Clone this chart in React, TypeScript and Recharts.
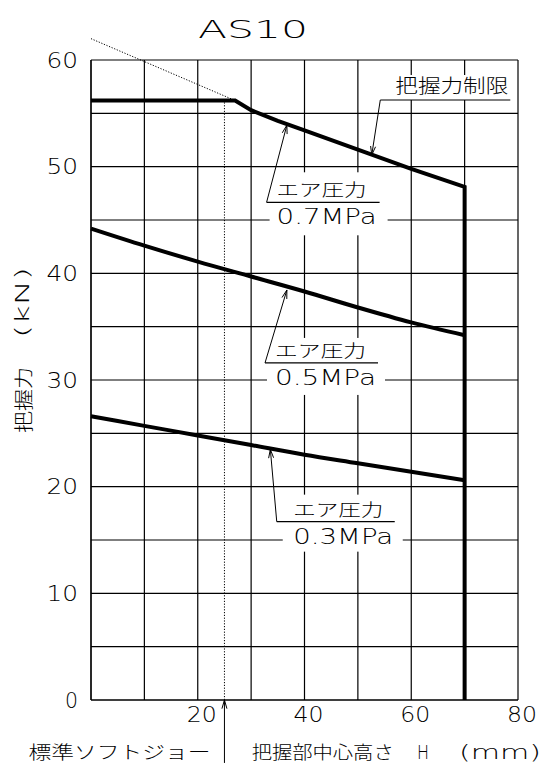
import React from 'react';
import { LineChart, Line, XAxis, YAxis, CartesianGrid, ReferenceLine } from 'recharts';

// ---- data ----
const xTicks = [0, 10, 20, 30, 40, 50, 60, 70, 80];
const xLabelTicks = [20, 40, 60, 80];
const yTicks = [0, 5, 10, 15, 20, 25, 30, 35, 40, 45, 50, 55, 60];
const yLabelTicks = [0, 10, 20, 30, 40, 50, 60];

// grip force limit (把握力制限) incl. 0.7MPa curve and stroke-end vertical at H=70
const limitX = [0, 27, 30, 35, 40, 50, 60, 70, 70];
const limitY = [56.2, 56.2, 55.3, 54.3, 53.4, 51.6, 49.8, 48.1, 0];

const p05X = [0, 10, 20, 30, 40, 50, 60, 70];
const p05Y = [44.2, 42.6, 41.1, 39.7, 38.3, 36.8, 35.4, 34.2];

const p03X = [0, 10, 20, 30, 40, 50, 60, 70];
const p03Y = [26.6, 25.7, 24.8, 23.9, 23.0, 22.2, 21.4, 20.6];

// dotted extension of the limit curve
const extX = [0, 27];
const extY = [62.0, 56.2];

// standard soft jaw position
const softJawX = 25;
const softJawTop = 56.2;
const softJawArrowBottom = -5.9;

const titleText = 'AS10';
const yTitleA = '把握力';
const yTitleB = '(kN)';
const xTitleA = '把握部中心高さ';
const xTitleB = 'H';
const xTitleC = '(mm)';
const softJawText = '標準ソフトジョー';

const calloutNames = ['limit', 'p07', 'p05', 'p03'];
const calloutText1 = ['把握力制限', 'エア圧力', 'エア圧力', 'エア圧力'];
const calloutText2 = ['', '0.7MPa', '0.5MPa', '0.3MPa'];
const calloutFootX = [54.2, 32.9, 32.6, 34.8];
const calloutFootY = [56.25, 46.66, 31.6, 16.72];
const calloutTipX = [52.6, 36.7, 36.7, 33.6];
const calloutTipY = [51.1, 53.9, 38.44, 23.5];

const toPts = (xs: number[], ys: number[]) => xs.map((x, i) => ({ x, y: ys[i] }));
const limitData = toPts(limitX, limitY);
const p05Data = toPts(p05X, p05Y);
const p03Data = toPts(p03X, p03Y);

const LATIN = '"DejaVu Sans", sans-serif';
const CJK = '"Noto Sans CJK JP", "DejaVu Sans", sans-serif';
const LW = 200; // latin weight
const CW = 300; // cjk weight

// ---- layout styles for callouts (pixel offsets relative to leader foot) ----
const calloutStyle: Record<string, any> = {
  limit: { ul: 130, t1dx: 15, t1len: 113, t1size: 19, t1dy: -7, box: [8, -25, 124, 25] },
  p07: { ul: 113, t1dx: 10, t1len: 90, t1size: 17, t1dy: -6, t2dx: 10, t2len: 100, box: [3, -30, 118, 63] },
  p05: { ul: 113, t1dx: 10, t1len: 91, t1size: 17, t1dy: -6, t2dx: 10, t2len: 101, box: [2, -25, 118, 57] },
  p03: { ul: 118, t1dx: 16.5, t1len: 90, t1size: 17, t1dy: -6, t2dx: 16.5, t2len: 100, box: [6, -27, 120, 57] },
};

function arrowHead(xs: number, ys: number, xt: number, yt: number, len = 9, spread = 0.28) {
  const a = Math.atan2(yt - ys, xt - xs);
  const p1 = [xt - len * Math.cos(a - spread), yt - len * Math.sin(a - spread)];
  const p2 = [xt - len * Math.cos(a + spread), yt - len * Math.sin(a + spread)];
  return `${p1[0]},${p1[1]} ${xt},${yt} ${p2[0]},${p2[1]}`;
}

function Callout(props: any) {
  const { x1, y1, x2, y2, idx } = props;
  const st = calloutStyle[calloutNames[idx]];
  const t2 = calloutText2[idx];
  return (
    <g>
      <rect x={x1 + st.box[0]} y={y1 + st.box[1]} width={st.box[2]} height={st.box[3]} fill="#fff" />
      <line x1={x1} y1={y1} x2={x2} y2={y2} stroke="#000" strokeWidth={1} />
      <polyline points={arrowHead(x1, y1, x2, y2)} fill="none" stroke="#000" strokeWidth={1} />
      <line x1={x1} y1={y1} x2={x1 + st.ul} y2={y1} stroke="#000" strokeWidth={1.2} />
      <text
        x={x1 + st.t1dx}
        y={y1 + st.t1dy}
        fontFamily={CJK}
        fontWeight={CW}
        fontSize={st.t1size}
        textLength={st.t1len}
        lengthAdjust="spacingAndGlyphs"
        fill="#000"
      >
        {calloutText1[idx]}
      </text>
      {t2 ? (
        <text
          x={x1 + st.t2dx}
          y={y1 + 22}
          fontFamily={LATIN}
          fontWeight={LW}
          fontSize={21}
          textLength={st.t2len}
          lengthAdjust="spacingAndGlyphs"
          fill="#000"
        >
          {t2}
        </text>
      ) : null}
    </g>
  );
}

function SoftJawArrow(props: any) {
  const { x1, y1, x2, y2 } = props;
  return (
    <g>
      <line x1={x1} y1={y1} x2={x2} y2={y2} stroke="#000" strokeWidth={1} />
      <polyline points={arrowHead(x1, y1, x2, y2)} fill="none" stroke="#000" strokeWidth={1} />
      <text
        x={x2 - 14 - 182}
        y={y1 - 4}
        fontFamily={CJK}
        fontWeight={CW}
        fontSize={18}
        textLength={182}
        lengthAdjust="spacingAndGlyphs"
        fill="#000"
      >
        {softJawText}
      </text>
    </g>
  );
}

function DottedLine(props: any) {
  const { x1, y1, x2, y2 } = props;
  return <line x1={x1} y1={y1} x2={x2} y2={y2} stroke="#000" strokeWidth={1} strokeDasharray="1.2 1.6" />;
}

function YTick(props: any) {
  const { x, y, payload } = props;
  const v = payload.value;
  if (!yLabelTicks.includes(v)) return <g />;
  const s = String(v);
  const w = s.length === 1 ? 13 : 31.5;
  const right = x - 13;
  return (
    <text
      x={right - w}
      y={y + 7.7}
      fontFamily={LATIN}
      fontWeight={LW}
      fontSize={20.5}
      textLength={w}
      lengthAdjust="spacingAndGlyphs"
      fill="#000"
    >
      {s}
    </text>
  );
}

function XTick(props: any) {
  const { x, y, payload } = props;
  const v = payload.value;
  if (!xLabelTicks.includes(v)) return <g />;
  const s = String(v);
  const w = 30;
  return (
    <text
      x={x + 4 - w / 2}
      y={y + 21.7}
      fontFamily={LATIN}
      fontWeight={LW}
      fontSize={20.5}
      textLength={w}
      lengthAdjust="spacingAndGlyphs"
      fill="#000"
    >
      {s}
    </text>
  );
}

function YTitle(props: any) {
  const vb = props.viewBox || { x: 0, y: 60, width: 91, height: 640 };
  const cx = vb.x + 22;
  const cyA = vb.y + 340;
  const cyB = vb.y + 242.5;
  const plotRight = vb.x + vb.width;
  return (
    <g>
      <text
        x={cx}
        y={cyA}
        transform={`rotate(-90, ${cx}, ${cyA})`}
        textAnchor="middle"
        dominantBaseline="central"
        fontFamily={CJK}
        fontWeight={CW}
        fontSize={19}
        textLength={66}
        lengthAdjust="spacingAndGlyphs"
        fill="#000"
      >
        {yTitleA}
      </text>
      <text
        x={cx}
        y={cyB}
        transform={`rotate(-90, ${cx}, ${cyB})`}
        textAnchor="middle"
        dominantBaseline="central"
        fontFamily={LATIN}
        fontWeight={LW}
        fontSize={19}
        textLength={71}
        lengthAdjust="spacingAndGlyphs"
        fill="#000"
      >
        {yTitleB}
      </text>
      <text
        x={plotRight + 107}
        y={vb.y - 22}
        fontFamily={LATIN}
        fontWeight={LW}
        fontSize={25}
        textLength={110}
        lengthAdjust="spacingAndGlyphs"
        fill="#000"
      >
        {titleText}
      </text>
    </g>
  );
}

function XTitle(props: any) {
  const vb = props.viewBox || { x: 91, y: 700, width: 427, height: 63 };
  const base = vb.y + 59;
  return (
    <g>
      <text x={vb.x + 160.7} y={base} fontFamily={CJK} fontWeight={CW} fontSize={18} textLength={142} lengthAdjust="spacingAndGlyphs" fill="#000">
        {xTitleA}
      </text>
      <text x={vb.x + 326} y={base} fontFamily={LATIN} fontWeight={LW} fontSize={19} textLength={12} lengthAdjust="spacingAndGlyphs" fill="#000">
        {xTitleB}
      </text>
      <text x={vb.x + 368} y={base} fontFamily={LATIN} fontWeight={LW} fontSize={19} textLength={82} lengthAdjust="spacingAndGlyphs" fill="#000">
        {xTitleC}
      </text>
    </g>
  );
}

export default function App() {
  return (
    <div style={{ position: 'absolute', left: 0, top: 0, width: 549, height: 763, background: '#fff' }}>
      <LineChart width={549} height={763} margin={{ top: 60, right: 31, left: 0, bottom: 0 }}>
        <CartesianGrid stroke="#000" strokeWidth={1.2} />
        <XAxis
          type="number"
          dataKey="x"
          domain={[0, 80]}
          ticks={xTicks}
          interval={0}
          height={63}
          tickLine={false}
          tickSize={0}
          tickMargin={0}
          axisLine={{ stroke: '#000', strokeWidth: 1.2 }}
          tick={<XTick />}
          label={(p: any) => <XTitle {...p} />}
        />
        <YAxis
          type="number"
          domain={[0, 60]}
          ticks={yTicks}
          interval={0}
          width={91}
          tickLine={false}
          tickSize={0}
          tickMargin={0}
          axisLine={{ stroke: '#000', strokeWidth: 1.2 }}
          tick={<YTick />}
          label={(p: any) => <YTitle {...p} />}
        />
        <ReferenceLine
          segment={[{ x: extX[0], y: extY[0] }, { x: extX[1], y: extY[1] }]}
          ifOverflow="visible"
          shape={(p: any) => <DottedLine {...p} />}
        />
        <ReferenceLine
          segment={[{ x: softJawX, y: 0 }, { x: softJawX, y: softJawTop }]}
          ifOverflow="visible"
          shape={(p: any) => <DottedLine {...p} />}
        />
        <ReferenceLine
          segment={[{ x: softJawX, y: softJawArrowBottom }, { x: softJawX, y: 0 }]}
          ifOverflow="visible"
          shape={(p: any) => <SoftJawArrow {...p} />}
        />
        <Line data={p03Data} dataKey="y" type="monotone" stroke="#000" strokeWidth={4} dot={false} activeDot={false} isAnimationActive={false} />
        <Line data={p05Data} dataKey="y" type="monotone" stroke="#000" strokeWidth={4} dot={false} activeDot={false} isAnimationActive={false} />
        <Line data={limitData} dataKey="y" type="linear" stroke="#000" strokeWidth={4} dot={false} activeDot={false} isAnimationActive={false} />
        {calloutNames.map((n, i) => (
          <ReferenceLine
            key={n}
            segment={[{ x: calloutFootX[i], y: calloutFootY[i] }, { x: calloutTipX[i], y: calloutTipY[i] }]}
            ifOverflow="visible"
            shape={(p: any) => <Callout {...p} idx={i} />}
          />
        ))}
      </LineChart>
    </div>
  );
}
